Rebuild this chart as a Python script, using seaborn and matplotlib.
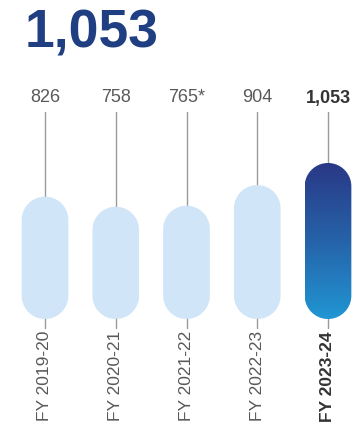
import numpy as np
import matplotlib
matplotlib.use("Agg")
import matplotlib.pyplot as plt
import matplotlib.transforms as mtransforms
from matplotlib.patches import Polygon
from matplotlib.colors import LinearSegmentedColormap
import seaborn as sns

categories = ["FY 2019-20", "FY 2020-21", "FY 2021-22", "FY 2022-23", "FY 2023-24"]
values = [826, 758, 765, 904, 1053]
value_labels = ["826", "758", "765*", "904", "1,053"]
headline = "1,053"

sns.set_theme(style="white")
plt.rcParams['font.family'] = ['Liberation Sans', 'DejaVu Sans']

W, H = 363, 429
fig = plt.figure(figsize=(W / 100, H / 100), dpi=100)
base_px = 319          # baseline pixel from top
scale = 156 / 1053     # px per unit
ax = fig.add_axes([0, (H - base_px) / H, 1, base_px / H])

light = "#d1e5f8"
sns.barplot(x=categories, y=values, width=0.66, color=light, ax=ax, saturation=1)

spacing = 70.75
x0 = 45
xlim = (-x0 / spacing, (W - x0) / spacing)
ylim = (0, base_px / scale)
ax.set_xlim(*xlim)
ax.set_ylim(*ylim)
ax.axis("off")

aspect = (1 / scale) / (1 / spacing)   # y units per x unit (equal pixels)

top_line = (base_px - 112) / scale
bot_line = (base_px - 328) / scale
for i in range(len(categories)):
    ax.plot([i, i], [bot_line, top_line], color="#9a9a9a", lw=1.0, zorder=0.5, clip_on=False)

def pill(x, w, h):
    rx = w / 2
    ry = rx * aspect
    cx = x + rx
    t = np.linspace(0, np.pi, 60)
    top = np.column_stack([cx + rx * np.cos(t), h - ry + ry * np.sin(t)])
    t2 = np.linspace(np.pi, 2 * np.pi, 60)
    bot = np.column_stack([cx + rx * np.cos(t2), ry + ry * np.sin(t2)])
    return np.vstack([top, bot])

cmap = LinearSegmentedColormap.from_list("g", ["#2196d3", "#2563a9", "#2a3886"])
patches = list(ax.patches)
for i, p in enumerate(patches):
    x, w, h = p.get_x(), p.get_width(), p.get_height()
    p.remove()
    last = i == len(patches) - 1
    poly = Polygon(pill(x, w, h), closed=True,
                   facecolor="none" if last else light, edgecolor="none", zorder=2)
    ax.add_patch(poly)
    if last:
        grad = np.linspace(0, 1, 256).reshape(-1, 1)
        im = ax.imshow(grad, cmap=cmap, extent=(x, x + w, 0, h), origin="lower",
                       aspect="auto", zorder=2, interpolation="bilinear")
        im.set_clip_path(poly)

ax.set_xlim(*xlim)
ax.set_ylim(*ylim)

trans = mtransforms.blended_transform_factory(ax.transData, fig.transFigure)
n = len(categories)
for i, (lab, cat) in enumerate(zip(value_labels, categories)):
    last = i == n - 1
    ax.text(i, (H - 98) / H, lab, transform=trans, ha="center", va="center",
            fontsize=13, color="#333333" if last else "#595959",
            fontweight="bold" if last else "normal")
    ax.text(i, (H - 331) / H, cat, transform=trans, ha="center", va="top",
            rotation=90, fontsize=12.5, color="#333333" if last else "#595959",
            fontweight="bold" if last else "normal")

fig.text(25 / W, (H - 48) / H, headline, ha="left", va="baseline",
         fontsize=38.5, fontweight="bold", color="#1f3f82")

fig.savefig("out.png", dpi=100)
